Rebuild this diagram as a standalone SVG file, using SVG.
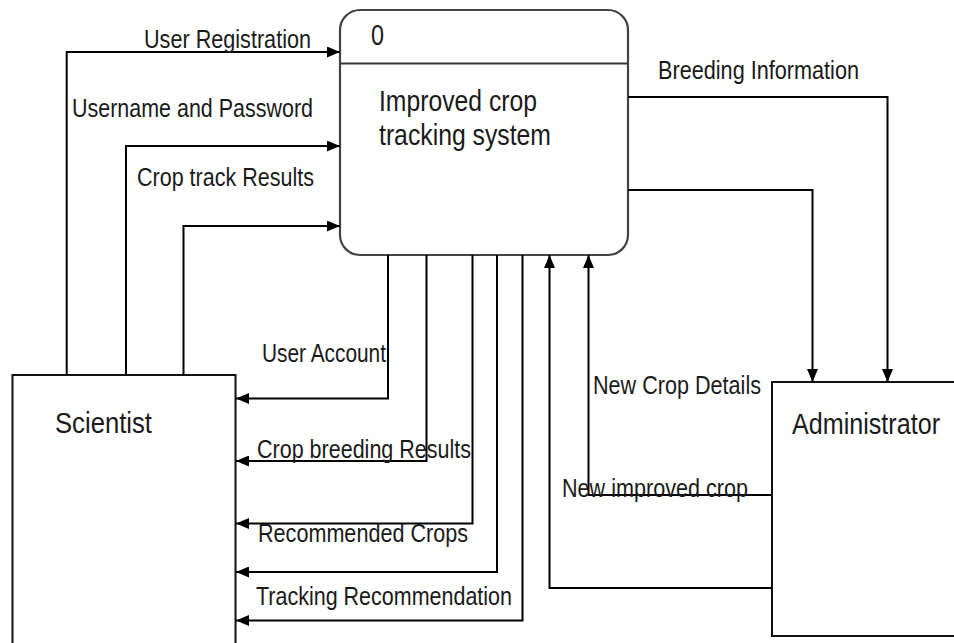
<svg xmlns="http://www.w3.org/2000/svg" width="954" height="643" viewBox="0 0 954 643">
<style>
  .t { font-family: "Liberation Sans", Arial, sans-serif; fill: #1a1a1a; }
  .lbl { font-size: 25px; }
  .ttl { font-size: 29px; }
  .box { fill: #ffffff; stroke: #111; stroke-width: 2; }
  .proc { fill: #ffffff; stroke: #444; stroke-width: 2.2; }
  .div { stroke: #333; stroke-width: 2; }
  .c { fill: none; stroke: #000; stroke-width: 2; marker-end: url(#arr); }
</style>
<defs>
  <marker id="arr" markerUnits="userSpaceOnUse" markerWidth="14" markerHeight="11" refX="13" refY="5.5" orient="auto">
    <path d="M0,0 L13,5.5 L0,11 Z" fill="#000"/>
  </marker>
</defs>
<rect width="954" height="643" fill="#ffffff"/>

<g id="scientist">
  <rect class="box" x="12.5" y="375" width="223" height="290"/>
  <text class="t ttl" x="55" y="433" textLength="97" lengthAdjust="spacingAndGlyphs">Scientist</text>
</g>

<g id="administrator">
  <rect class="box" x="772" y="382" width="184" height="254"/>
  <text class="t ttl" x="792" y="434" textLength="148" lengthAdjust="spacingAndGlyphs">Administrator</text>
</g>

<g id="process0">
  <rect class="proc" x="340" y="10" width="288" height="245" rx="20" ry="20"/>
  <line class="div" x1="340" y1="63.5" x2="628" y2="63.5"/>
  <text class="t ttl" x="371" y="45" textLength="13" lengthAdjust="spacingAndGlyphs">0</text>
  <text class="t ttl" x="379" y="111" textLength="158" lengthAdjust="spacingAndGlyphs">Improved crop</text>
  <text class="t ttl" x="379" y="145" textLength="172" lengthAdjust="spacingAndGlyphs">tracking system</text>
</g>

<g id="connectors">
  <path class="c" d="M66.7,375 V52 H340"/>
  <path class="c" d="M126,375 V146 H340"/>
  <path class="c" d="M183.5,375 V226 H340"/>
  <path class="c" d="M388,255 V398.5 H236"/>
  <path class="c" d="M426.5,255 V461 H236"/>
  <path class="c" d="M472.5,255 V523.5 H236"/>
  <path class="c" d="M497,255 V572 H236"/>
  <path class="c" d="M522.5,255 V620.5 H236"/>
  <path class="c" d="M628,97 H887.5 V382"/>
  <path class="c" d="M628,190 H812.5 V382"/>
  <path class="c" d="M772,495 H588.5 V255"/>
  <path class="c" d="M772,588 H549.5 V255"/>

  <text class="t lbl" x="144" y="48" textLength="167" lengthAdjust="spacingAndGlyphs">User Registration</text>
  <text class="t lbl" x="72" y="117" textLength="241" lengthAdjust="spacingAndGlyphs">Username and Password</text>
  <text class="t lbl" x="137" y="186" textLength="177" lengthAdjust="spacingAndGlyphs">Crop track Results</text>
  <text class="t lbl" x="658" y="79" textLength="201" lengthAdjust="spacingAndGlyphs">Breeding Information</text>
  <text class="t lbl" x="262" y="362" textLength="124" lengthAdjust="spacingAndGlyphs">User Account</text>
  <text class="t lbl" x="257" y="458" textLength="214" lengthAdjust="spacingAndGlyphs">Crop breeding Results</text>
  <text class="t lbl" x="258" y="542" textLength="210" lengthAdjust="spacingAndGlyphs">Recommended Crops</text>
  <text class="t lbl" x="256" y="605" textLength="256" lengthAdjust="spacingAndGlyphs">Tracking Recommendation</text>
  <text class="t lbl" x="593" y="394" textLength="168" lengthAdjust="spacingAndGlyphs">New Crop Details</text>
  <text class="t lbl" x="562" y="497" textLength="186" lengthAdjust="spacingAndGlyphs">New improved crop</text>
</g>
</svg>
